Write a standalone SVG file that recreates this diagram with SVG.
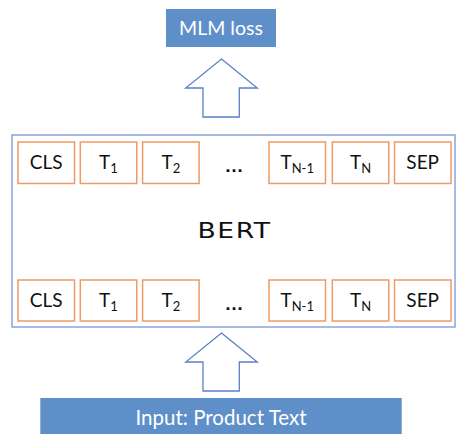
<svg xmlns="http://www.w3.org/2000/svg" width="456" height="434" viewBox="0 0 456 434">
  <style>
    .blue { fill: #5f8fc9; }
    .label { font-family: Lato, "Open Sans", "Liberation Sans", sans-serif; fill: #ffffff; text-anchor: middle; }
    .tok { fill: #ffffff; stroke: #ee9a66; stroke-width: 1.5; }
    .tt { font-family: Lato, "Open Sans", "Liberation Sans", sans-serif; font-size: 19px; fill: #111111; text-anchor: middle; }
    .sub { font-size: 13px; }
    .arrow { fill: #ffffff; stroke: #5b7fc8; stroke-width: 1.3; stroke-linejoin: miter; }
    .dots { font-family: "Liberation Sans", sans-serif; font-weight: bold; font-size: 19px; fill: #111111; text-anchor: middle; }
  </style>
  <defs>
    <path id="uparrow" d="M0,0 L35.8,29 L17.8,29 L17.8,58 L-18.5,58 L-18.5,29 L-35.8,29 Z"/>
  </defs>

  <rect width="456" height="434" fill="#ffffff"/>

  <g id="connectors">
    <use href="#uparrow" class="arrow" x="221.5" y="59"/>
    <use href="#uparrow" class="arrow" x="221.5" y="333"/>
  </g>

  <g id="mlm-loss">
    <rect class="blue" x="166" y="9" width="110" height="38"/>
    <text class="label" x="221" y="35" font-size="19.5">MLM loss</text>
  </g>

  <g id="bert">
    <rect x="12" y="135" width="443" height="192" fill="#ffffff" stroke="#8aa4dc" stroke-width="1.5"/>
    <!-- wide geometric lettering: horizontally stretched -->
    <text transform="translate(234.5,238) scale(1.3,1)" x="0" y="0" font-family="'DejaVu Sans', sans-serif" font-size="20.5" fill="#111111" text-anchor="middle" letter-spacing="1.2">BERT</text>
  </g>

  <g id="tokens-out">
    <g id="out-cls"><rect class="tok" x="18" y="142" width="56.5" height="41.5"/><text class="tt" x="46.2" y="169.3">CLS</text></g>
    <g id="out-t1"><rect class="tok" x="80.3" y="142" width="56.5" height="41.5"/><text class="tt" x="108.5" y="169.3">T<tspan class="sub" dy="4">1</tspan></text></g>
    <g id="out-t2"><rect class="tok" x="142.6" y="142" width="56.5" height="41.5"/><text class="tt" x="170.8" y="169.3">T<tspan class="sub" dy="4">2</tspan></text></g>
    <text class="dots" x="234" y="172">…</text>
    <g id="out-tn1"><rect class="tok" x="269" y="142" width="56.5" height="41.5"/><text class="tt" x="297.2" y="169.3">T<tspan class="sub" dy="4">N-1</tspan></text></g>
    <g id="out-tn"><rect class="tok" x="332.3" y="142" width="56.5" height="41.5"/><text class="tt" x="360.5" y="169.3">T<tspan class="sub" dy="4">N</tspan></text></g>
    <g id="out-sep"><rect class="tok" x="394.5" y="142" width="56.5" height="41.5"/><text class="tt" x="422.7" y="169.3">SEP</text></g>
  </g>

  <g id="tokens-in">
    <g id="in-cls"><rect class="tok" x="18" y="280" width="56.5" height="41"/><text class="tt" x="46.2" y="307">CLS</text></g>
    <g id="in-t1"><rect class="tok" x="80.3" y="280" width="56.5" height="41"/><text class="tt" x="108.5" y="307">T<tspan class="sub" dy="4">1</tspan></text></g>
    <g id="in-t2"><rect class="tok" x="142.6" y="280" width="56.5" height="41"/><text class="tt" x="170.8" y="307">T<tspan class="sub" dy="4">2</tspan></text></g>
    <text class="dots" x="234" y="309.5">…</text>
    <g id="in-tn1"><rect class="tok" x="269" y="280" width="56.5" height="41"/><text class="tt" x="297.2" y="307">T<tspan class="sub" dy="4">N-1</tspan></text></g>
    <g id="in-tn"><rect class="tok" x="332.3" y="280" width="56.5" height="41"/><text class="tt" x="360.5" y="307">T<tspan class="sub" dy="4">N</tspan></text></g>
    <g id="in-sep"><rect class="tok" x="394.5" y="280" width="56.5" height="41"/><text class="tt" x="422.7" y="307">SEP</text></g>
  </g>

  <g id="input">
    <rect class="blue" x="40.3" y="398" width="361.4" height="40"/>
    <text class="label" x="221" y="425" font-size="20.5">Input: Product Text</text>
  </g>
</svg>
